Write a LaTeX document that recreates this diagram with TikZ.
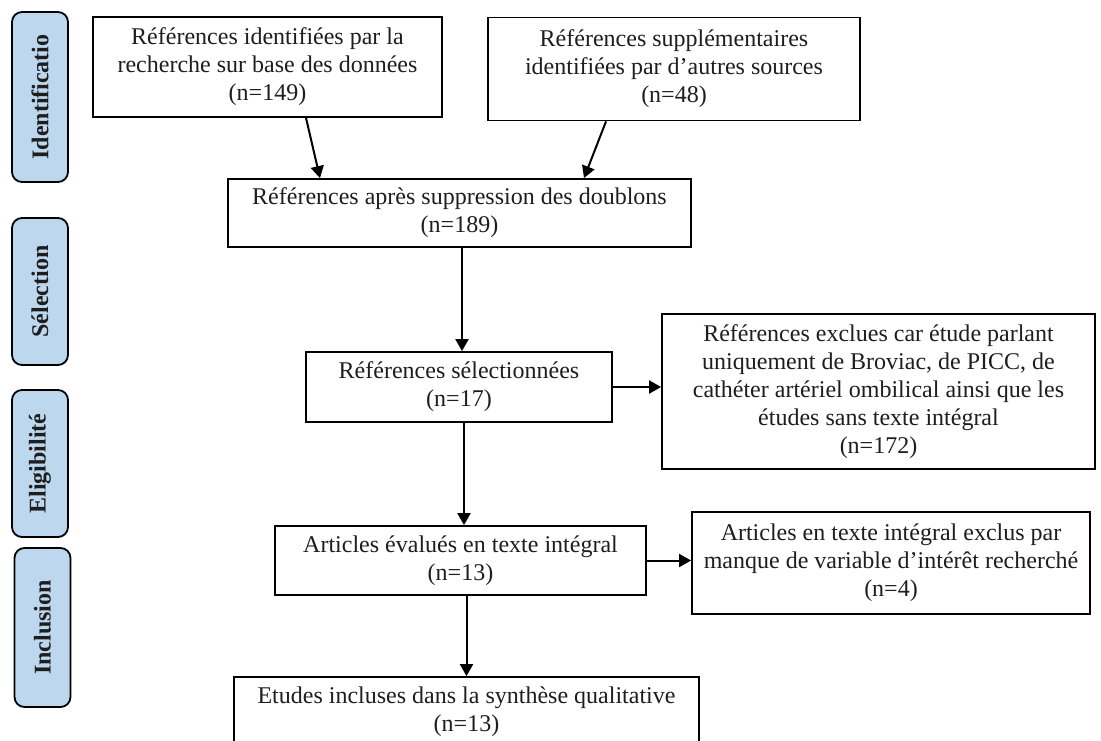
\documentclass[tikz,border=0pt]{standalone}
\usepackage{fontspec}
\setmainfont{Liberation Serif}
\usepackage{tikz}
\usepackage{xcolor}
\usetikzlibrary{arrows.meta}
\definecolor{phaseblue}{HTML}{BDD7EE}
\definecolor{ink}{HTML}{1E1E1E}
\tikzstyle{box} = [rectangle, draw, line width=0.9pt, fill=white, align=center, inner sep=2pt, text=ink, font=\fontsize{12}{14}\selectfont]
\tikzstyle{phase} = [rectangle, draw, rounded corners=5pt, line width=0.9pt, fill=phaseblue, minimum width=28pt, text=ink, font=\bfseries\fontsize{12}{14}\selectfont]

\begin{document}
\begin{tikzpicture}[x=0.5pt,y=-0.5pt,>={Triangle[width=6.5pt,length=6pt]},line width=1pt]
  \useasboundingbox (0,0) rectangle (1101,740);
  % phases
  \node[phase, minimum height=85pt] (P1) at (40,97) {\rotatebox{90}{Identificatio}};
  \node[phase, minimum height=73.5pt] (P2) at (40,291.5) {\rotatebox{90}{Sélection}};
  \node[phase, minimum height=73.5pt] (P3) at (40,463.5) {\rotatebox{90}{Eligibilité}};
  \node[phase, minimum height=79.5pt] (P4) at (42.5,627.5) {\rotatebox{90}{Inclusion}};

  % boxes
  \node[box, minimum width=174.5pt, minimum height=50pt] (B1) at (267.5,67)
    {Références identifiées par la\\recherche sur base des données\\(n=149)};
  \node[box, minimum width=186pt, minimum height=51.5pt] (B2) at (674,69)
    {Références supplémentaires\\identifiées par d’autres sources\\(n=48)};
  \node[box, minimum width=231.5pt, minimum height=34pt] (B3) at (459.5,213)
    {Références après suppression des doublons\\(n=189)};
  \node[box, minimum width=153pt, minimum height=35pt] (B4) at (459,387)
    {Références sélectionnées\\(n=17)};
  \node[box, minimum width=216.5pt, minimum height=77.5pt] (B5) at (878.5,391.5)
    {Références exclues car étude parlant\\uniquement de Broviac, de PICC, de\\cathéter artériel ombilical ainsi que les\\études sans texte intégral\\(n=172)};
  \node[box, minimum width=185.5pt, minimum height=34.5pt] (B6) at (460.5,560.5)
    {Articles évalués en texte intégral\\(n=13)};
  \node[box, minimum width=199pt, minimum height=51pt] (B7) at (891,563)
    {Articles en texte intégral exclus par\\manque de variable d’intérêt recherché\\(n=4)};
  \node[box, minimum width=232.5pt, minimum height=35pt] (B8) at (466.5,712)
    {Etudes incluses dans la synthèse qualitative\\(n=13)};

  % arrows
  \draw[->] ([xshift=19.25pt]B1.south) -- ([xshift=-69.75pt]B3.north);
  \draw[->] ([xshift=-34pt]B2.south) -- ([xshift=62.25pt]B3.north);
  \draw[->] ([xshift=1.25pt]B3.south) -- ([xshift=1.25pt]B3.south |- B4.north);
  \draw[->] (B4.east) -- (B4.east -| B5.west);
  \draw[->] ([xshift=2.5pt]B4.south) -- ([xshift=2.5pt]B4.south |- B6.north);
  \draw[->] (B6.east) -- (B6.east -| B7.west);
  \draw[->] ([xshift=3pt]B6.south) -- ([xshift=3pt]B6.south |- B8.north);
\end{tikzpicture}
\end{document}
